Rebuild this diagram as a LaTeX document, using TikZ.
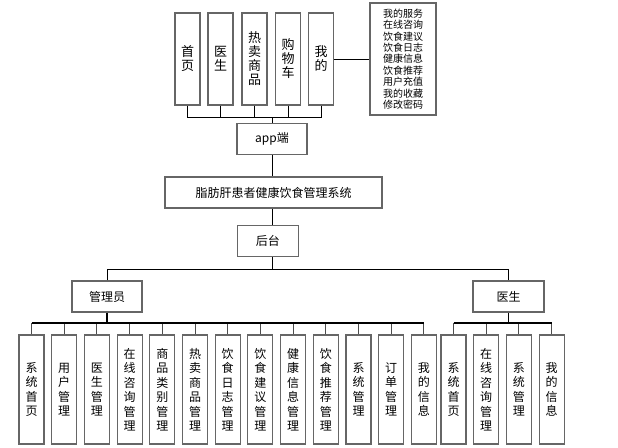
\documentclass[tikz,border=0pt]{standalone}
\usepackage{fontspec}
\newfontfamily\cjk{Noto Sans CJK SC}
\begin{document}
\begin{tikzpicture}[x=1pt,y=-1pt,
  box/.style={draw=black!60,line width=1.1pt,fill=white,inner sep=0pt,align=center,font=\cjk\fontsize{12}{14.5}\selectfont},
  topbox/.style={box,minimum width=25pt,minimum height=92pt,font=\cjk\fontsize{13}{14}\selectfont},
  botbox/.style={box,minimum width=25pt,minimum height=109pt},
  hbox/.style={box,minimum height=31pt},
  conn/.style={draw=black,line width=0.8pt},
  stem/.style={draw=black!70,line width=0.9pt}]
\useasboundingbox (0,0) rectangle (618,447);
% top row
\node[topbox] (t1) at (187.5,59) {首\\页};
\node[topbox] (t2) at (220.5,59) {医\\生};
\node[topbox] (t3) at (254.5,59) {热\\卖\\商\\品};
\node[topbox] (t4) at (288,59) {购\\物\\车};
\node[topbox] (t5) at (321,59) {我\\的};
\node[box,minimum width=66pt,minimum height=112pt,font=\cjk\fontsize{10}{11.4}\selectfont] (list) at (403,59)
  {我的服务\\在线咨询\\饮食建议\\饮食日志\\健康信息\\饮食推荐\\用户充值\\我的收藏\\修改密码};
\node[hbox,minimum width=70pt] (app) at (272,139) {app端};
\node[hbox,minimum width=217pt] (main) at (273.5,192.5) {脂肪肝患者健康饮食管理系统};
\node[hbox,minimum width=61pt] (hou) at (267.8,241) {后台};
\node[hbox,minimum width=70pt] (admin) at (107,296.5) {管理员};
\node[hbox,minimum width=71pt] (doc) at (508.5,296.5) {医生};
% admin children
\node[botbox] (a1) at (31.5,389.5) {系\\统\\首\\页};
\node[botbox] (a2) at (64.2,389.5) {用\\户\\管\\理};
\node[botbox] (a3) at (96.9,389.5) {医\\生\\管\\理};
\node[botbox] (a4) at (129.6,389.5) {在\\线\\咨\\询\\管\\理};
\node[botbox] (a5) at (162.3,389.5) {商\\品\\类\\别\\管\\理};
\node[botbox] (a6) at (195,389.5) {热\\卖\\商\\品\\管\\理};
\node[botbox] (a7) at (227.7,389.5) {饮\\食\\日\\志\\管\\理};
\node[botbox] (a8) at (260.4,389.5) {饮\\食\\建\\议\\管\\理};
\node[botbox] (a9) at (293.1,389.5) {健\\康\\信\\息\\管\\理};
\node[botbox] (a10) at (325.8,389.5) {饮\\食\\推\\荐\\管\\理};
\node[botbox] (a11) at (358.5,389.5) {系\\统\\管\\理};
\node[botbox] (a12) at (391.2,389.5) {订\\单\\管\\理};
\node[botbox] (a13) at (423.9,389.5) {我\\的\\信\\息};
% doctor children
\node[botbox] (d1) at (453.5,389.5) {系\\统\\首\\页};
\node[botbox] (d2) at (486.2,389.5) {在\\线\\咨\\询\\管\\理};
\node[botbox] (d3) at (518.9,389.5) {系\\统\\管\\理};
\node[botbox] (d4) at (551.6,389.5) {我\\的\\信\\息};
% top connectors
\coordinate (tb) at (272,117);
\foreach \n in {t1,t2,t3,t4,t5} \draw[conn] (\n.south) |- (tb);
\draw[conn] (tb) -- (app.north);
\draw[conn] (t5.east) -- (list.west);
\draw[conn] (app.south) -- (app.south |- main.north);
\draw[conn] (app.south |- main.south) -- (app.south |- hou.north);
\coordinate (hb) at (272,269);
\draw[conn] (app.south |- hou.south) -- (hb);
\draw[conn] (admin.north) |- (hb);
\draw[conn] (doc.north) |- (hb);
% admin bus
\coordinate (ab) at (107,323);
\draw[conn,line width=1.3pt] (admin.south) -- (ab);
\foreach \n in {a1,a2,a3,a4,a5,a6,a7,a8,a9,a10,a11,a12,a13} \draw[stem] (\n.north) |- (ab);
\draw[conn,line width=1.3pt] (a1.north |- ab) -- (a13.north |- ab);
% doctor bus
\coordinate (db) at (508.5,323);
\draw[conn,line width=1.3pt] (doc.south) -- (db);
\foreach \n in {d1,d2,d3,d4} \draw[stem] (\n.north) |- (db);
\draw[conn,line width=1.3pt] (d1.north |- db) -- (d4.north |- db);
\end{tikzpicture}
\end{document}
